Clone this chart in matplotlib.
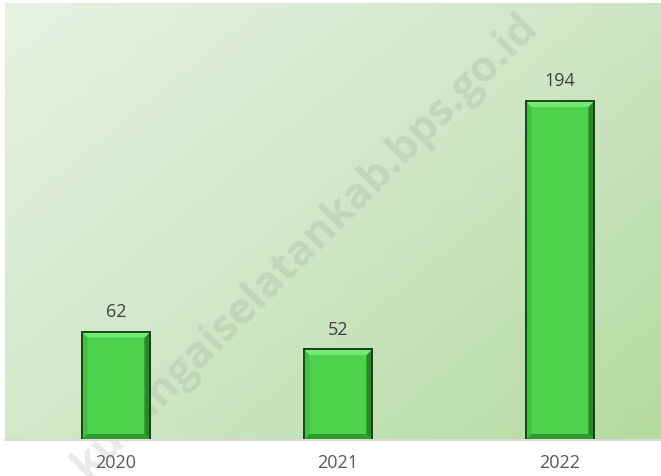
import numpy as np
import matplotlib.pyplot as plt
from matplotlib.patches import Polygon
from matplotlib.colors import LinearSegmentedColormap

plt.rcParams['font.family'] = ['Open Sans', 'DejaVu Sans']

years = ['2020', '2021', '2022']
values = [62, 52, 194]
watermark = 'kusungaiselatankab.bps.go.id'

fig = plt.figure(figsize=(6.61, 4.76), dpi=100)
ax = fig.add_axes([5 / 661, 36 / 476, 656 / 661, 437 / 476])

# diagonal gradient background
cmap = LinearSegmentedColormap.from_list('bg', ['#e7f2e3', '#d0e7c7', '#b3da9f'])
gx, gy = np.meshgrid(np.linspace(0, 1, 200), np.linspace(0, 1, 200))
grad = (gx * 0.55 + gy * 0.45)
ax.imshow(grad, cmap=cmap, extent=[0, 1, 0, 1], transform=ax.transAxes,
          aspect='auto', origin='upper', zorder=0, interpolation='bicubic')

x = np.arange(len(years))
width = 0.31
bars = ax.bar(x, values, width=width, color='#4cd24c', edgecolor='#1a4d1a',
              linewidth=1.2, zorder=3)

ax.set_xlim(-0.5, -0.5 + 656 / 222)
ax.set_ylim(0, 250)

# bevel look on each bar
bx = 6 / 222
by = 6 / 1.747
for b in bars:
    x0, y0 = b.get_x(), b.get_y()
    x1, y1 = x0 + b.get_width(), y0 + b.get_height()
    top = [(x0, y1), (x1, y1), (x1 - bx, y1 - by), (x0 + bx, y1 - by)]
    bot = [(x0, y0), (x1, y0), (x1 - bx, y0 + by), (x0 + bx, y0 + by)]
    left = [(x0, y0), (x0, y1), (x0 + bx, y1 - by), (x0 + bx, y0 + by)]
    right = [(x1, y0), (x1, y1), (x1 - bx, y1 - by), (x1 - bx, y0 + by)]
    for pts, c in [(left, '#43c043'), (right, '#278a27'), (bot, '#2e9a2e'), (top, '#74ea74')]:
        ax.add_patch(Polygon(pts, closed=True, facecolor=c, edgecolor='none', zorder=4))
    ax.add_patch(Polygon([(x0, y0), (x1, y0), (x1, y1), (x0, y1)], closed=True,
                         facecolor='none', edgecolor='#173f17', linewidth=1.3, zorder=5))
    ax.text(b.get_x() + b.get_width() / 2, y1 + 6, f'{int(b.get_height())}',
            ha='center', va='bottom', fontsize=13, color='#404040', zorder=6)

for s in ['top', 'right', 'left']:
    ax.spines[s].set_visible(False)
ax.spines['bottom'].set_color('#d9d9d9')
ax.spines['bottom'].set_linewidth(1.5)
ax.spines['bottom'].set_zorder(6)
ax.set_yticks([])
ax.set_xticks(x)
ax.set_xticklabels(years, fontsize=13, color='#595959')
ax.tick_params(axis='x', length=0, pad=10)

# watermark behind the bars
ax.text(305 / 661, 1 - 246 / 476, watermark, rotation=45, ha='center', va='center',
        fontsize=31, fontweight='bold', color='#808080', alpha=0.17, zorder=2,
        rotation_mode='anchor', transform=fig.transFigure, clip_on=False)

fig.savefig('out.png', dpi=100)
